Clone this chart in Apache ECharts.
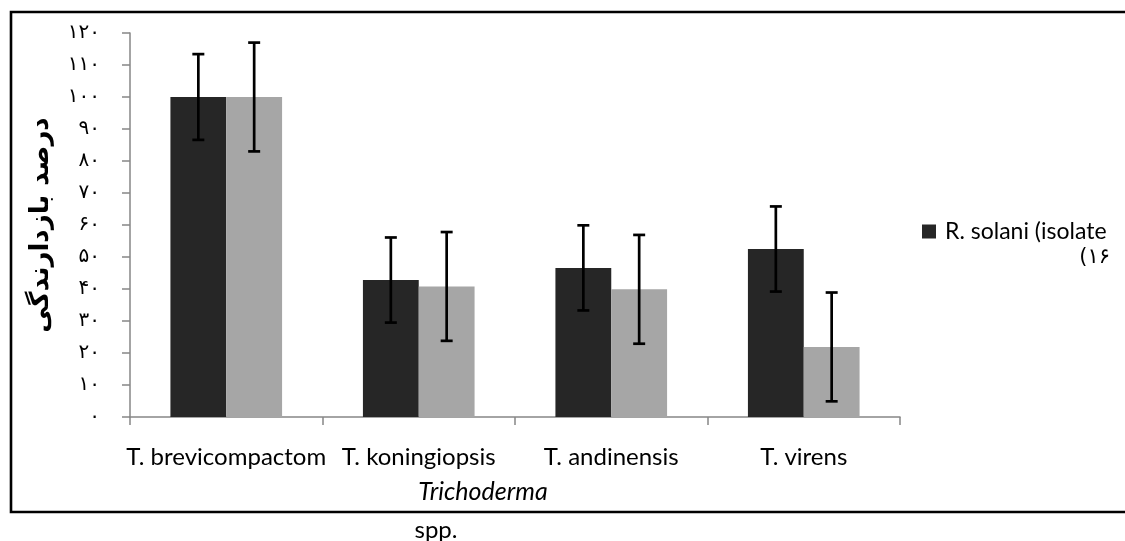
<!DOCTYPE html>
<html>
<head>
<meta charset="utf-8">
<script src="https://cdn.jsdelivr.net/npm/echarts@6/dist/echarts.min.js"></script>
<style>html,body{margin:0;padding:0;background:#fff}#c{width:1125px;height:541px}</style>
</head>
<body>
<div id="c"></div>
<script>
const categories = ['T. brevicompactom', 'T. koningiopsis', 'T. andinensis', 'T. virens'];
const seriesNames = ['R. solani (isolate ۱۶)', 'R. solani (isolate 2)'];
const darkValues = [100, 42.8, 46.6, 52.5];
const darkErrors = [13.4, 13.3, 13.3, 13.3];
const grayValues = [100, 40.8, 39.9, 21.9];
const grayErrors = [17, 17, 17, 17];
const yTickLabels = ['۰','۱۰','۲۰','۳۰','۴۰','۵۰','۶۰','۷۰','۸۰','۹۰','۱۰۰','۱۱۰','۱۲۰'];

const chart = echarts.init(document.getElementById('c'), null, {renderer: 'canvas'});
const CAT_GAP = 0.42;

function errRender(sign) {
  return function (params, api) {
    const idx = api.value(0);
    const v = api.value(1);
    const e = api.value(2);
    const band = api.size([1, 0])[0];
    const barW = band * (1 - CAT_GAP) / 2;
    const c = api.coord([idx, v]);
    const x = c[0] + sign * barW / 2;
    const top = api.coord([idx, v + e])[1];
    const bot = api.coord([idx, v - e])[1];
    const cap = 6;
    const st = {stroke: '#000', lineWidth: 2.7};
    return {
      type: 'group',
      children: [
        {type: 'line', shape: {x1: x, y1: top, x2: x, y2: bot}, style: st},
        {type: 'line', shape: {x1: x - cap, y1: top, x2: x + cap, y2: top}, style: st},
        {type: 'line', shape: {x1: x - cap, y1: bot, x2: x + cap, y2: bot}, style: st}
      ]
    };
  };
}

chart.setOption({
  animation: false,
  backgroundColor: '#fff',
  grid: {left: 130, right: 225, top: 33, bottom: 124},
  legend: {
    data: [seriesNames[0]],
    left: 922, top: 220, padding: 0,
    icon: 'rect', itemWidth: 14, itemHeight: 14,
    formatter: function () { return 'R. solani (isolate'; },
    textStyle: {color: '#000', fontFamily: 'Lato', fontSize: 23, padding: [0, 0, 0, 4]}
  },
  xAxis: {
    type: 'category',
    data: categories,
    axisLine: {lineStyle: {color: '#868686', width: 1.5}},
    axisTick: {show: true, length: 8, lineStyle: {color: '#868686', width: 1.5}},
    axisLabel: {color: '#000', fontFamily: 'Lato', fontSize: 24, margin: 28, interval: 0}
  },
  yAxis: {
    type: 'value', min: 0, max: 120, interval: 10,
    name: 'درصد بازدارندگی',
    nameLocation: 'middle', nameRotate: 90, nameGap: 76,
    nameTextStyle: {color: '#000', fontFamily: 'DejaVu Sans', fontWeight: 'bold', fontSize: 26},
    splitLine: {show: false},
    axisLine: {show: true, lineStyle: {color: '#868686', width: 1.5}},
    axisTick: {show: true, length: 8, lineStyle: {color: '#868686', width: 1.5}},
    axisLabel: {
      color: '#000', fontFamily: 'DejaVu Sans', fontSize: 20, margin: 30,
      formatter: function (v) { return yTickLabels[Math.round(v / 10)]; }
    }
  },
  graphic: [
    {type: 'rect', shape: {x: 11, y: 12, width: 1130, height: 500}, style: {fill: 'none', stroke: '#000', lineWidth: 2.6}, silent: true},
    {type: 'text', style: {text: '(۱۶', x: 1110, y: 258, align: 'right', verticalAlign: 'middle', font: '21px "DejaVu Sans"', fill: '#000'}},
    {type: 'text', style: {text: 'Trichoderma', x: 483, y: 492, align: 'center', verticalAlign: 'middle', font: 'italic 25px Lato', fill: '#000'}},
    {type: 'text', style: {text: 'spp.', x: 436, y: 530, align: 'center', verticalAlign: 'middle', font: '24px Lato', fill: '#000'}}
  ],
  series: [
    {name: seriesNames[0], type: 'bar', data: darkValues, barGap: '0%', barCategoryGap: '42%', itemStyle: {color: '#262626'}},
    {name: seriesNames[1], type: 'bar', data: grayValues, barGap: '0%', barCategoryGap: '42%', itemStyle: {color: '#a6a6a6'}},
    {type: 'custom', renderItem: errRender(-1), data: darkValues.map((v, i) => [i, v, darkErrors[i]]), z: 10, encode: {x: 0, y: 1}},
    {type: 'custom', renderItem: errRender(1), data: grayValues.map((v, i) => [i, v, grayErrors[i]]), z: 10, encode: {x: 0, y: 1}}
  ]
});
</script>
</body>
</html>
